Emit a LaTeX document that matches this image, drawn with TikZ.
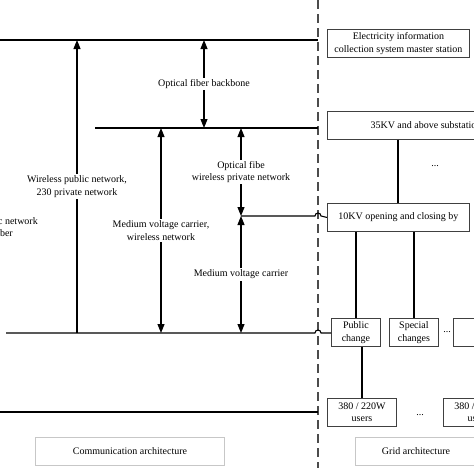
\documentclass[tikz,border=0pt]{standalone}
\usepackage{fontspec}
\setmainfont{Liberation Serif}
\usetikzlibrary{arrows.meta}
\begin{document}
\begin{tikzpicture}[x=1pt,y=-1pt,
  font=\fontsize{10}{12.5}\selectfont,
  bus/.style={line width=1.1pt, black},
  arr/.style={bus, -{Triangle[length=9pt,width=7pt]}},
  darr/.style={bus, {Triangle[length=9pt,width=7pt]}-{Triangle[length=9pt,width=7pt]}},
  box/.style={draw=black!75, line width=0.9pt, minimum height=28pt, inner sep=1pt, align=center, fill=white, anchor=north west},
  capbox/.style={draw=black!22, line width=1pt, minimum height=28pt, inner sep=1pt, align=center, anchor=north west},
  lbl/.style={fill=white, inner sep=1.5pt, align=center},
  frag/.style={inner sep=0pt, anchor=base east},
  sep/.style={draw=black!70, line width=1.6pt, dash pattern=on 9pt off 5pt}]
\useasboundingbox (0,0) rectangle (474,474);
\clip (0,0) rectangle (474,474);

% dashed separator
\coordinate (d0) at (318,0);
\coordinate (d1) at (318,468);
\draw[sep] (d0) -- (d1);

% grid side boxes
\node[box, minimum width=142pt] (ms) at (327,29) {Electricity information\\collection system master station};
\node[box, minimum width=197pt] (s35) at (327,111) {35KV and above substation};
\node[box, minimum width=142pt] (k10) at (327,203) {10KV opening and closing by};
\node[box, minimum width=49pt] (pub) at (331,318) {Public\\change};
\node[box, minimum width=49pt] (spc) at (389,318) {Special\\changes};
\node[box, minimum width=49pt] (oth) at (453,318) {~\\.};
\node[box, minimum width=69pt] (u1) at (327,398) {380 / 220W\\users};
\node[box, minimum width=69pt] (u2) at (443,398) {380 / 220W\\users};
\node (dt1) at (435,166) {...};
\node (dt2) at (447,332) {...};
\node (dt3) at (420,415) {...};

% captions
\node[capbox, minimum width=189pt] (comm) at (35,437) {Communication architecture};
\node[capbox, minimum width=121pt] (grid) at (355,437) {Grid architecture};

% grid connectors
\coordinate (c35) at (398,0);
\draw[bus] (s35.south -| c35) -- (k10.north -| c35);
\draw[bus] (k10.south -| pub.north) -- (pub.north);
\draw[bus] (k10.south -| spc.north) -- (spc.north);
\draw[bus] (pub.south -| u1.north) -- (u1.north);

% communication buses
\coordinate (t0) at (0,40);
\coordinate (t1) at (318,40);
\draw[bus] (t0) -- (t1);
\coordinate (m0) at (95,128);
\coordinate (m1) at (318,128);
\draw[bus] (m0) -- (m1);
\coordinate (h0) at (241,216);
\draw[bus] (h0) -- (315,216) arc (180:360:3) -- (k10.west);
\coordinate (b0) at (6,333);
\draw[bus] (b0) -- (315,333) arc (180:360:3) -- (pub.west |- 0,333);
\coordinate (l0) at (0,412);
\coordinate (l1) at (318,412);
\draw[bus] (l0) -- (l1);

% arrows
\coordinate (a1t) at (77,40);   \coordinate (a1b) at (77,333);
\draw[arr] (a1b) -- node[lbl] {Wireless public network,\\230 private network} (a1t);
\coordinate (a2t) at (204,40);  \coordinate (a2b) at (204,128);
\draw[darr] (a2t) -- node[lbl] {Optical fiber backbone} (a2b);
\coordinate (a3t) at (161,128); \coordinate (a3b) at (161,333);
\draw[darr] (a3t) -- node[lbl] {Medium voltage carrier,\\wireless network} (a3b);
\coordinate (a4t) at (241,128); \coordinate (a4b) at (241,216);
\draw[darr] (a4t) -- node[lbl] {Optical fibe\\wireless private network} (a4b);
\coordinate (a5t) at (241,216); \coordinate (a5b) at (241,333);
\draw[darr] (a5t) -- node[lbl] {Medium voltage carrier} (a5b);

% cropped left label
\node[frag] (f1) at (38,224) {c network};
\node[frag] (f2) at (13,236) {ber};
\end{tikzpicture}
\end{document}
